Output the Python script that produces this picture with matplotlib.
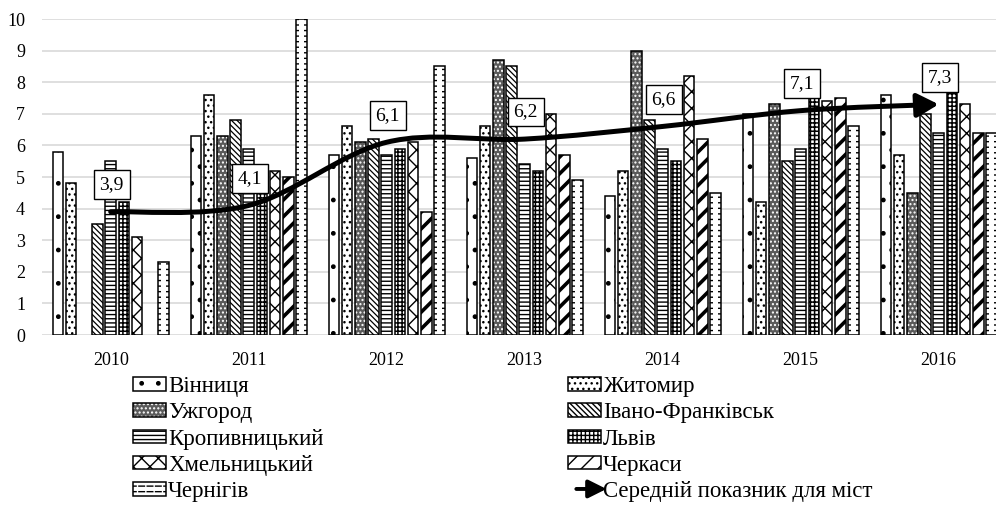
import numpy as np
import matplotlib
matplotlib.use('Agg')
import matplotlib.pyplot as plt
from matplotlib.path import Path
from matplotlib.patches import FancyArrowPatch, Rectangle
from matplotlib.legend_handler import HandlerBase

plt.rcParams['font.family'] = ['Liberation Serif', 'DejaVu Serif']

years = ['2010', '2011', '2012', '2013', '2014', '2015', '2016']
nan = np.nan

vinnytsia = [5.8, 6.3, 5.7, 5.6, 4.4, 7.0, 7.6]
zhytomyr = [4.8, 7.6, 6.6, 6.6, 5.2, 4.2, 5.7]
uzhhorod = [nan, 6.3, 6.1, 8.7, 9.0, 7.3, 4.5]
ivano_frankivsk = [3.5, 6.8, 6.2, 8.5, 6.8, 5.5, 7.0]
kropyvnytskyi = [5.5, 5.9, 5.7, 5.4, 5.9, 5.9, 6.4]
lviv = [4.2, 4.7, 5.9, 5.2, 5.5, 7.6, 7.8]
khmelnytskyi = [3.1, 5.2, 6.1, 7.0, 8.2, 7.4, 7.3]
cherkasy = [nan, 5.0, 3.9, 5.7, 6.2, 7.5, 6.4]
chernihiv = [2.3, 10.0, 8.5, 4.9, 4.5, 6.6, 6.4]

average = [3.9, 4.1, 6.1, 6.2, 6.6, 7.1, 7.3]
avg_labels = ['3,9', '4,1', '6,1', '6,2', '6,6', '7,1', '7,3']

city_names = ['Вінниця', 'Житомир', 'Ужгород', 'Івано-Франківськ', 'Кропивницький',
              'Львів', 'Хмельницький', 'Черкаси', 'Чернігів']
avg_name = 'Середній показник для міст'

series = [vinnytsia, zhytomyr, uzhhorod, ivano_frankivsk, kropyvnytskyi,
          lviv, khmelnytskyi, cherkasy, chernihiv]

# face colour, hatch, hatch colour, hatch linewidth, dashed (white middle strip)
STYLES = [
    ('white', '.', 'black', 1.0, False),
    ('white', '...', 'black', 1.0, False),
    ('#5a5a5a', '....', 'white', 1.0, False),
    ('white', '\\' * 6, 'black', 0.9, False),
    ('white', '----', 'black', 1.0, False),
    ('white', '++++', 'black', 1.1, False),
    ('white', 'xx', 'black', 1.0, False),
    ('white', '//', 'black', 2.6, False),
    ('white', '---', 'black', 1.0, True),
]

PITCH = 0.0957
WIDTH = 0.0775


class ArrowHandler(HandlerBase):
    def create_artists(self, legend, orig_handle, xdescent, ydescent,
                       width, height, fontsize, trans):
        y = height / 2 - ydescent
        a = FancyArrowPatch((-xdescent + 4, y), (width * 1.25 - xdescent, y),
                            arrowstyle='-|>,head_length=0.9,head_width=0.45',
                            mutation_scale=12, lw=2.8, color='black',
                            transform=trans)
        return [a]


def smooth_path(xs, ys):
    # same kind of smoothing as the spreadsheet "smoothed line"
    pts = np.column_stack([xs, ys]).astype(float)
    n = len(pts)
    verts = [pts[0]]
    codes = [Path.MOVETO]
    for i in range(n - 1):
        p0 = pts[i - 1] if i > 0 else pts[i]
        p1, p2 = pts[i], pts[i + 1]
        p3 = pts[i + 2] if i + 2 < n else pts[i + 1]
        verts += [p1 + (p2 - p0) / 6, p2 - (p3 - p1) / 6, p2]
        codes += [Path.CURVE4] * 3
    return Path(np.array(verts), codes)


fig = plt.figure(figsize=(9.96, 5.08), dpi=100)
ax = fig.add_axes([41.7 / 996, 1 - 335 / 508, 966 / 996, 316 / 508])

x = np.arange(len(years))
handles = []
for k, (vals, st) in enumerate(zip(series, STYLES)):
    face, hatch, hcol, hlw, dashed = st
    pos = x + (k - 4) * PITCH
    with plt.rc_context({'hatch.linewidth': hlw}):
        b1 = ax.bar(pos, vals, WIDTH, color=face, edgecolor=hcol, lw=0,
                    hatch=hatch, zorder=2)
    b2 = ax.bar(pos, vals, WIDTH, fill=False, edgecolor='black', lw=1.1,
                zorder=3)
    if dashed:
        ax.bar(pos, vals, WIDTH * 0.45, color='white', lw=0, zorder=2.5)
        with plt.rc_context({'hatch.linewidth': 3.0}):
            gaps = Rectangle((0, 0), 1, 1, fill=False, edgecolor='white',
                             lw=0, hatch='||')
        handles.append((b1, gaps, b2))
    else:
        handles.append((b1, b2))

path = smooth_path(x, average)
arrow = FancyArrowPatch(path=path, arrowstyle='-|>,head_length=1.0,head_width=0.55',
                        mutation_scale=13, lw=3.6, color='black',
                        transform=ax.transData, zorder=5)
ax.add_patch(arrow)

for xi, yi, txt in zip(x, average, avg_labels):
    ax.annotate(txt, (xi, yi), xytext=(1, 27), textcoords='offset pixels',
                ha='center', va='center', fontsize=14, zorder=6,
                bbox=dict(boxstyle='square,pad=0.3', fc='white', ec='black', lw=1))

ax.set_xlim(-0.5, 6.5)
ax.set_ylim(0, 10)
ax.set_yticks(range(0, 11))
ax.set_xticks(x)
ax.set_xticklabels(years)
ax.tick_params(axis='both', length=0, labelsize=13)
ax.tick_params(axis='y', pad=12)
ax.tick_params(axis='x', pad=12)
ax.grid(axis='y', color='#d9d9d9', lw=1.2, zorder=0)
ax.set_axisbelow(True)
for s in ax.spines.values():
    s.set_visible(False)

arrow_handle = object()
col1 = [0, 2, 4, 6, 8]
col2 = [1, 3, 5, 7]
leg_kw = dict(loc='upper left', frameon=False, fontsize=16.5, borderpad=0,
              borderaxespad=0, handlelength=1.44, handleheight=0.52,
              handletextpad=0.1, labelspacing=0.23)
fig.legend([handles[i] for i in col1], [city_names[i] for i in col1],
           bbox_to_anchor=(133 / 996, 1 - 376 / 508), **leg_kw)
fig.legend([handles[i] for i in col2] + [arrow_handle],
           [city_names[i] for i in col2] + [avg_name],
           bbox_to_anchor=(568 / 996, 1 - 376 / 508),
           handler_map={arrow_handle: ArrowHandler()}, **leg_kw)

fig.savefig('out.png', dpi=100)
